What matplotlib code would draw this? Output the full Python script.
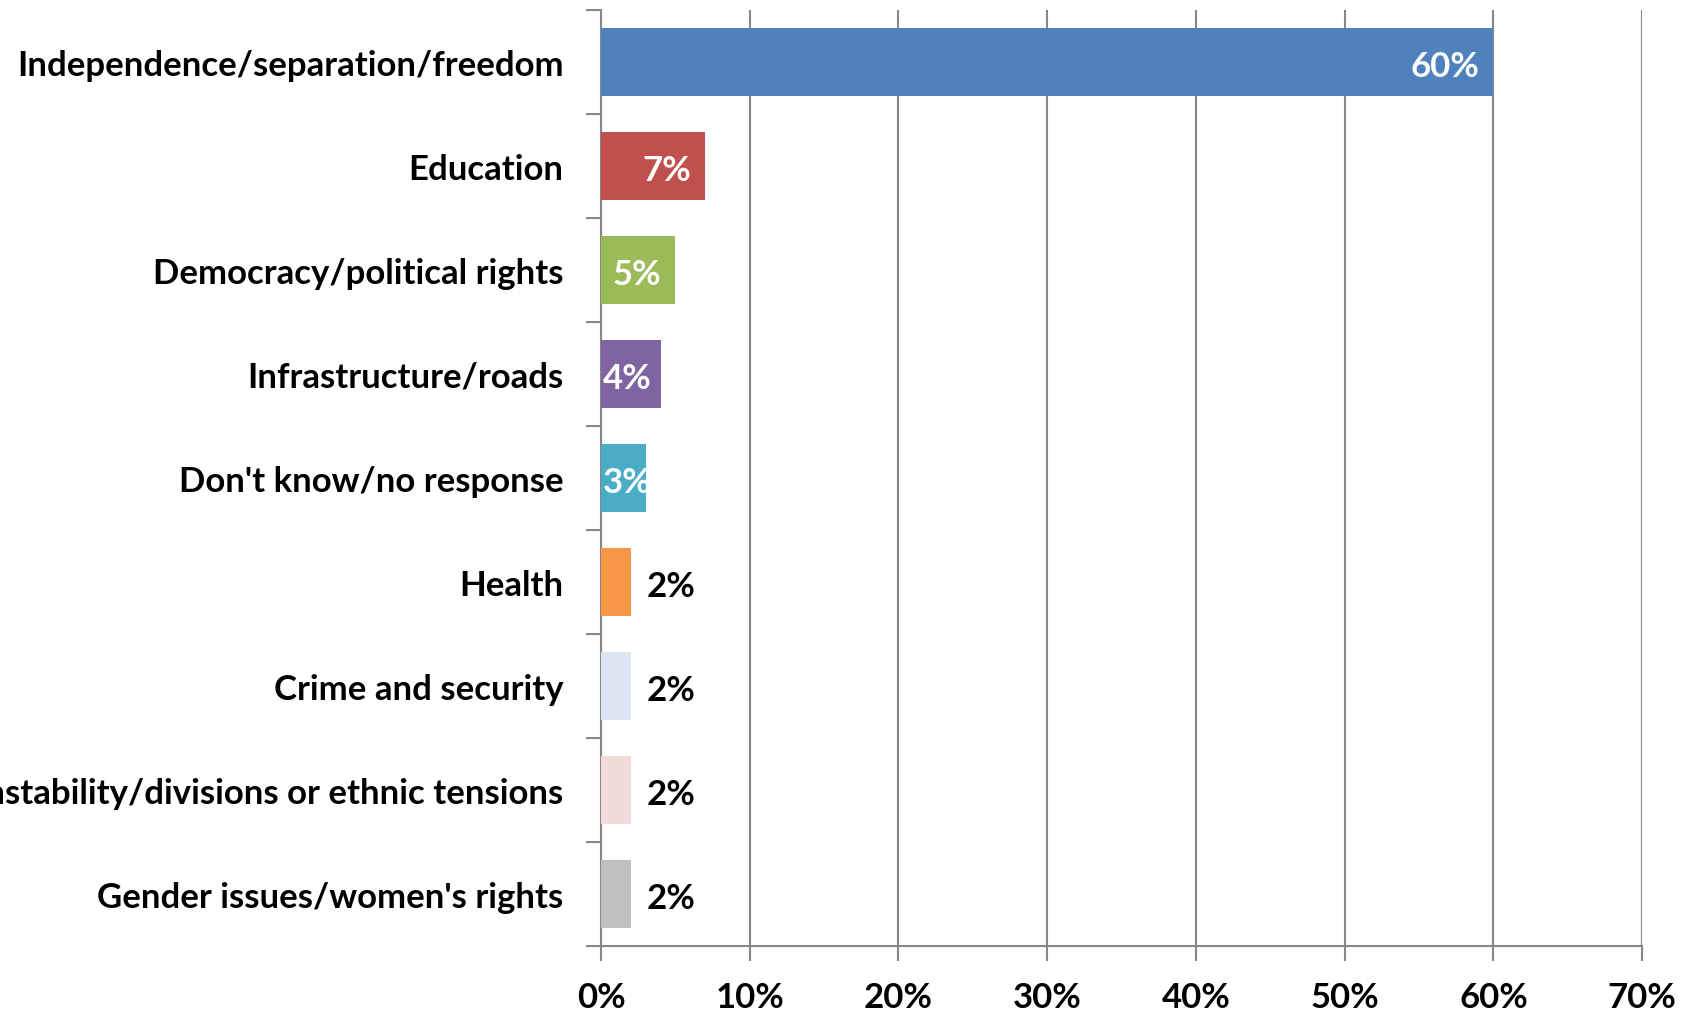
import matplotlib
matplotlib.use('Agg')
import matplotlib.pyplot as plt
from matplotlib.ticker import FuncFormatter, FixedLocator

categories = [
    'Independence/separation/freedom',
    'Education',
    'Democracy/political rights',
    'Infrastructure/roads',
    "Don't know/no response",
    'Health',
    'Crime and security',
    'Instability/divisions or ethnic tensions',
    "Gender issues/women's rights",
]
values = [60, 7, 5, 4, 3, 2, 2, 2, 2]
colors = ['#4F81BD', '#C0504D', '#9BBB59', '#8064A2', '#4BACC6',
          '#F79646', '#DCE6F2', '#F2DCDB', '#BFBFBF']
x_ticks = [0, 10, 20, 30, 40, 50, 60, 70]

plt.rcParams.update({
    'font.family': ['Lato', 'DejaVu Sans'],
    'font.weight': 'bold',
    'font.size': 25,
})

fig = plt.figure(figsize=(16.93, 10.12), dpi=100)
ax = fig.add_axes([0.355, 0.0642, 0.615, 0.925])

ypos = list(range(len(categories)))
ax.barh(ypos, values, height=0.66, color=colors, zorder=3)

# data labels: inside end when they fit, at the base for small bars, outside for 2%
for y, v in zip(ypos, values):
    lab = f'{v}%'
    if v >= 5:
        ax.annotate(lab, (v, y), xytext=(-14, -4), textcoords='offset pixels',
                    ha='right', va='center', color='white', fontweight='bold', zorder=4)
    elif v >= 3:
        ax.annotate(lab, (0, y), xytext=(2, -4), textcoords='offset pixels',
                    ha='left', va='center', color='white', fontweight='bold', zorder=4)
    else:
        ax.annotate(lab, (v, y), xytext=(16, -4), textcoords='offset pixels',
                    ha='left', va='center', color='black', fontweight='bold', zorder=4)

ax.set_xlim(0, 70)
ax.set_ylim(len(categories) - 0.5, -0.5)
ax.set_xticks(x_ticks)
ax.xaxis.set_major_formatter(FuncFormatter(lambda v, p: f'{v:.0f}%'))
ax.set_yticks(ypos)
ax.set_yticklabels(categories)
ax.yaxis.set_minor_locator(FixedLocator([i - 0.5 for i in range(len(categories) + 1)]))

ax.tick_params(axis='y', which='major', length=0, pad=27)
ax.tick_params(axis='y', which='minor', length=11, width=1.5, color='#878787')
ax.tick_params(axis='x', which='major', length=11, width=1.5, color='#878787', pad=14)

ax.grid(axis='x', color='#878787', linewidth=1.5, zorder=0)
for s in ['top', 'right']:
    ax.spines[s].set_visible(False)
for s in ['left', 'bottom']:
    ax.spines[s].set_color('#878787')
    ax.spines[s].set_linewidth(1.5)

fig.savefig('out.png', dpi=100)
